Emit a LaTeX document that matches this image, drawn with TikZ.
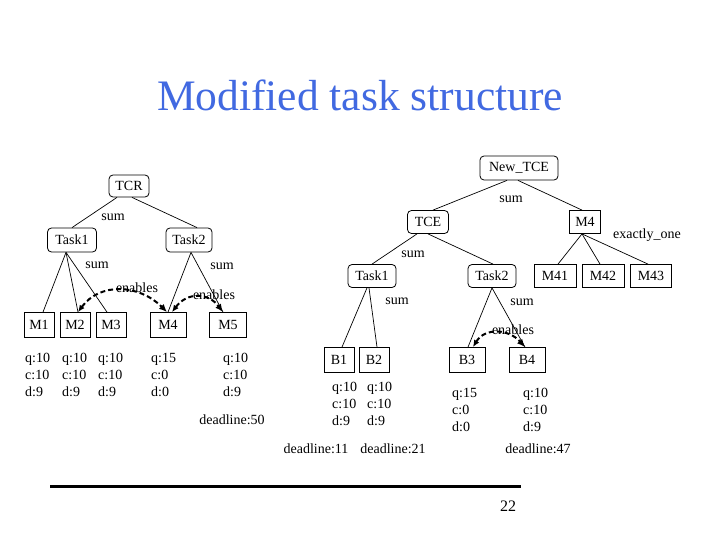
\documentclass[tikz,border=0pt]{standalone}
\usepackage{fontspec}
\setmainfont{Liberation Serif}
\usetikzlibrary{arrows.meta}
\definecolor{titleblue}{RGB}{65,105,225}
\begin{document}
\begin{tikzpicture}[x=1pt,y=-1pt, font=\fontsize{14}{17}\selectfont,
  rbox/.style={draw, rounded corners=4pt, inner sep=0pt, minimum height=24pt, line width=0.8pt},
  sbox/.style={draw, inner sep=0pt, minimum height=25pt, line width=0.8pt},
  edge/.style={line width=0.7pt},
  enab/.style={line width=2pt, dash pattern=on 5pt off 3pt, {Latex[length=7pt,width=6pt]}-{Latex[length=8pt,width=7pt]}},
  lbl/.style={inner sep=0pt},
  vals/.style={inner sep=0pt, align=left, anchor=north west}]
\path[use as bounding box] (0,0) rectangle (720,540);

% title
\node[lbl, text=titleblue, font=\fontsize{43.5}{50}\selectfont] (title) at (360,95) {Modified task structure};

% ---------- left tree ----------
\node[rbox, minimum width=40pt, minimum height=22pt] (lTCR) at (129,186) {TCR};
\node[rbox, minimum width=49pt] (lTask1) at (72,240) {Task1};
\node[rbox, minimum width=46pt] (lTask2) at (189,240) {Task2};
\node[sbox, minimum width=30pt] (lM1) at (39,325) {M1};
\node[sbox, minimum width=30pt] (lM2) at (75,325) {M2};
\node[sbox, minimum width=30pt] (lM3) at (111,325) {M3};
\node[sbox, minimum width=36pt] (lM4) at (168,325) {M4};
\node[sbox, minimum width=37pt] (lM5) at (228,325) {M5};

\draw[edge] ([xshift=-12pt]lTCR.south) -- (lTask1.north);
\draw[edge] ([xshift=3pt]lTCR.south) -- ([xshift=8pt]lTask2.north);
\draw[edge] ([xshift=-6pt]lTask1.south) -- ([xshift=4pt]lM1.north);
\draw[edge] ([xshift=-6pt]lTask1.south) -- ([xshift=3pt]lM2.north);
\draw[edge] ([xshift=-6pt]lTask1.south) -- ([xshift=-4pt]lM3.north);
\draw[edge] ([xshift=2pt]lTask2.south) -- (lM4.north);
\draw[edge] ([xshift=2pt]lTask2.south) -- ([xshift=-5pt]lM5.north);

\draw[enab] ([xshift=3pt]lM2.north) .. controls +(22,-30) and +(-28,-28) .. ([xshift=-1pt]lM4.north);
\draw[enab] ([xshift=4pt]lM4.north) .. controls +(15,-20) and +(-15,-20) .. ([xshift=-5pt]lM5.north);

\node[lbl] (ls1) at (113,217) {sum};
\node[lbl] (ls2) at (97,265) {sum};
\node[lbl] (ls3) at (222,266) {sum};
\node[lbl] (le1) at (137,288) {enables};
\node[lbl] (le2) at (214,295) {enables};

\node[vals] (lv1) at (25,353) {q:10\\c:10\\d:9};
\node[vals] (lv2) at (62,353) {q:10\\c:10\\d:9};
\node[vals] (lv3) at (98,353) {q:10\\c:10\\d:9};
\node[vals] (lv4) at (151,353) {q:15\\c:0\\d:0};
\node[vals] (lv5) at (223,353) {q:10\\c:10\\d:9};
\node[lbl] (ld5) at (232,420) {deadline:50};

% ---------- right tree ----------
\node[rbox, minimum width=78pt] (rNew) at (519,168) {New\_TCE};
\node[rbox, minimum width=41pt, minimum height=23pt] (rTCE) at (428,222) {TCE};
\node[sbox, minimum width=31pt, minimum height=23pt] (rM4) at (585,222) {M4};
\node[rbox, minimum width=48pt, minimum height=23pt] (rTask1) at (372,276) {Task1};
\node[rbox, minimum width=48pt, minimum height=23pt] (rTask2) at (492,276) {Task2};
\node[sbox, minimum width=42pt, minimum height=23pt] (rM41) at (555,276) {M41};
\node[sbox, minimum width=42pt, minimum height=23pt] (rM42) at (603,276) {M42};
\node[sbox, minimum width=41pt, minimum height=23pt] (rM43) at (651,276) {M43};
\node[sbox, minimum width=30pt] (rB1) at (339,360) {B1};
\node[sbox, minimum width=30pt] (rB2) at (374,360) {B2};
\node[sbox, minimum width=36pt] (rB3) at (467,360) {B3};
\node[sbox, minimum width=36pt] (rB4) at (527,360) {B4};

\draw[edge] ([xshift=-12pt]rNew.south) -- ([xshift=5pt]rTCE.north);
\draw[edge] ([xshift=-1pt]rNew.south) -- ([xshift=-3pt]rM4.north);
\draw[edge] ([xshift=-11pt]rTCE.south) -- (rTask1.north);
\draw[edge] (rTCE.south) -- ([xshift=1pt]rTask2.north);
\draw[edge] ([xshift=-3pt]rM4.south) -- ([xshift=3pt]rM41.north);
\draw[edge] ([xshift=-3pt]rM4.south) -- ([xshift=-3pt]rM42.north);
\draw[edge] ([xshift=-3pt]rM4.south) -- ([xshift=-3pt]rM43.north);
\draw[edge] ([xshift=-5pt]rTask1.south) -- ([xshift=3pt]rB1.north);
\draw[edge] ([xshift=-3pt]rTask1.south) -- ([xshift=3pt]rB2.north);
\draw[edge] (rTask2.south) -- ([xshift=1pt]rB3.north);
\draw[edge] (rTask2.south) -- ([xshift=-2pt]rB4.north);

\draw[enab] ([xshift=6pt]rB3.north) .. controls +(12,-20) and +(-16,-18) .. ([xshift=-2pt]rB4.north);

\node[lbl] (rs1) at (511,199) {sum};
\node[lbl] (rex) at (647,235) {exactly\_one};
\node[lbl] (rs2) at (413,254) {sum};
\node[lbl] (rs3) at (397,301) {sum};
\node[lbl] (rs4) at (522,302) {sum};
\node[lbl] (re1) at (513,330) {enables};

\node[vals] (rv1) at (332,382) {q:10\\c:10\\d:9};
\node[vals] (rv2) at (367,382) {q:10\\c:10\\d:9};
\node[vals] (rv3) at (452,388) {q:15\\c:0\\d:0};
\node[vals] (rv4) at (523,388) {q:10\\c:10\\d:9};
\node[lbl] (rd1) at (316,449) {deadline:11};
\node[lbl] (rd2) at (393,449) {deadline:21};
\node[lbl] (rd4) at (538,449) {deadline:47};

% footer
\coordinate (ruleL) at (50,486);
\coordinate (ruleR) at (521,486);
\draw[line width=3pt] (ruleL) -- (ruleR);
\node[lbl, font=\fontsize{16}{18}\selectfont] (pg) at (508,506) {22};
\end{tikzpicture}
\end{document}
